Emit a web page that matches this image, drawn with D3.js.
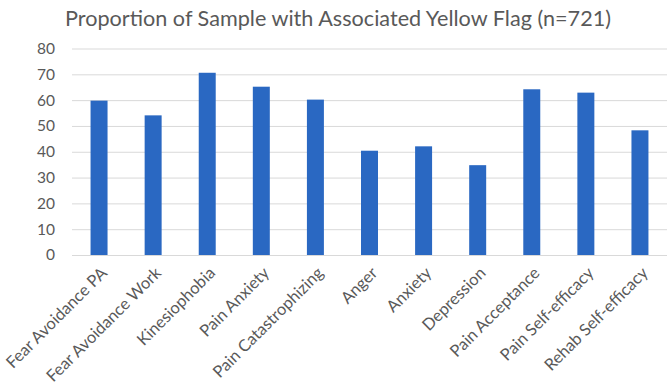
<!DOCTYPE html>
<html><head><meta charset="utf-8">
<script src="https://cdn.jsdelivr.net/npm/d3@7"></script>
<style>body{margin:0;background:#fff}</style>
</head><body>
<svg id="c" width="669" height="387"></svg>
<script>
const categories = ["Fear Avoidance PA","Fear Avoidance Work","Kinesiophobia","Pain Anxiety","Pain Catastrophizing","Anger","Anxiety","Depression","Pain Acceptance","Pain Self-efficacy","Rehab Self-efficacy"];
const values = [59.8, 54.1, 70.6, 65.2, 60.2, 40.4, 42.1, 34.8, 64.2, 62.9, 48.3];
const yTicks = [0,10,20,30,40,50,60,70,80];
const title = "Proportion of Sample with Associated Yellow Flag (n=721)";

const svg = d3.select("#c");
const font = "Lato, 'Open Sans', sans-serif";
const m = {l:72, r:2, t:48.5, b:132};
const W = 669, H = 387;
const x = d3.scaleBand().domain(categories).range([m.l, W-m.r]).paddingInner(0.686).paddingOuter(0.343);
const y = d3.scaleLinear().domain([0,80]).range([255, 48.5]);

svg.append("text").attr("x", 338).attr("y", 26).attr("text-anchor","middle")
  .attr("font-family", font).attr("font-size", 22).attr("fill","#595959")
  .attr("textLength", 546).attr("lengthAdjust","spacingAndGlyphs").text(title);

const ya = svg.append("g").attr("transform",`translate(${m.l},0)`)
  .call(d3.axisLeft(y).tickValues(yTicks).tickSize(-(W-m.r-m.l)).tickPadding(17));
ya.select(".domain").remove();
ya.selectAll(".tick line").attr("stroke","#d9d9d9").attr("stroke-width",1);
ya.selectAll(".tick text").attr("font-family",font).attr("font-size",15.5).attr("fill","#595959");

svg.append("g").selectAll("rect").data(values).join("rect")
  .attr("x",(d,i)=>x(categories[i])).attr("width",x.bandwidth())
  .attr("y",d=>y(d)).attr("height",d=>y(0)-y(d)).attr("fill","#2a68c2");

const xa = svg.append("g").attr("transform",`translate(0,${y(0)})`)
  .call(d3.axisBottom(x).tickSize(0).tickPadding(0));
xa.select(".domain").remove();
xa.selectAll(".tick text").attr("font-family",font).attr("font-size",16.5).attr("fill","#595959")
  .attr("text-anchor","end").attr("dy",null).attr("y",null)
  .attr("transform","translate(9,19) rotate(-45)");
</script>
</body></html>
